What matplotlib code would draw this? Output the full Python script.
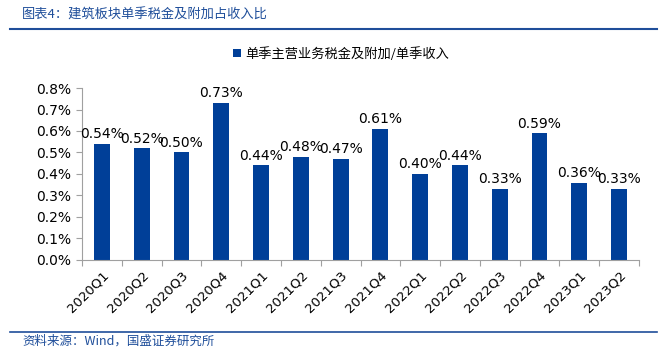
import matplotlib.pyplot as plt
from matplotlib.lines import Line2D
from matplotlib.ticker import FuncFormatter

plt.rcParams['font.family'] = ['Noto Sans CJK SC', 'DejaVu Sans']

quarters = ['2020Q1', '2020Q2', '2020Q3', '2020Q4', '2021Q1', '2021Q2', '2021Q3',
            '2021Q4', '2022Q1', '2022Q2', '2022Q3', '2022Q4', '2023Q1', '2023Q2']
ratio = [0.54, 0.52, 0.50, 0.73, 0.44, 0.48, 0.47, 0.61, 0.40, 0.44, 0.33, 0.59, 0.36, 0.33]

bar_color = '#003f98'
title_color = '#1f4e9a'

fig = plt.figure(figsize=(6.67, 3.55), dpi=100)
ax = fig.add_axes([0.123, 0.268, 0.835, 0.484])

x = range(len(quarters))
ax.bar(x, ratio, width=0.4, color=bar_color, label='单季主营业务税金及附加/单季收入')
for xi, v in zip(x, ratio):
    ax.text(xi, v + 0.012, '%.2f%%' % v, ha='center', va='bottom', fontsize=10,
            family='DejaVu Sans', color='black')

ax.set_xlim(-0.5, len(quarters) - 0.5)
ax.set_ylim(0, 0.8)
ax.set_yticks([i / 10 for i in range(9)])
ax.yaxis.set_major_formatter(FuncFormatter(lambda v, p: '%.1f%%' % v))
ax.set_xticks([i - 0.5 for i in range(len(quarters) + 1)])
ax.set_xticklabels([])
ax.set_xticks(list(x), minor=True)
ax.set_xticklabels(quarters, minor=True, rotation=45, ha='right', rotation_mode='anchor',
                   family='DejaVu Sans', fontsize=9.5)
ax.tick_params(axis='x', which='minor', length=0, pad=6)
ax.tick_params(axis='x', which='major', length=4, color='#a0a0a0', direction='out')
ax.tick_params(axis='y', length=4, color='#a0a0a0', direction='out', labelsize=10)
for lab in ax.get_yticklabels():
    lab.set_family('DejaVu Sans')
for s in ['top', 'right']:
    ax.spines[s].set_visible(False)
ax.spines['left'].set_color('#a0a0a0')
ax.spines['bottom'].set_color('#a0a0a0')

ax.legend(loc='center', bbox_to_anchor=(0.465, 1.20), frameon=False, fontsize=9.5,
          handlelength=0.6, handleheight=0.6, handletextpad=0.3)

fig.text(0.033, 0.958, '图表4：建筑板块单季税金及附加占收入比', fontsize=9.5,
         color=title_color, style='italic', va='center')
fig.add_artist(Line2D([0.015, 0.985], [0.918, 0.918], color=title_color, lw=1.5))
fig.add_artist(Line2D([0.015, 0.985], [0.065, 0.065], color=title_color, lw=1.2))
fig.text(0.033, 0.04, '资料来源：Wind，国盛证券研究所', fontsize=9,
         color=title_color, style='italic', va='center')

fig.savefig('out.png', dpi=100)
